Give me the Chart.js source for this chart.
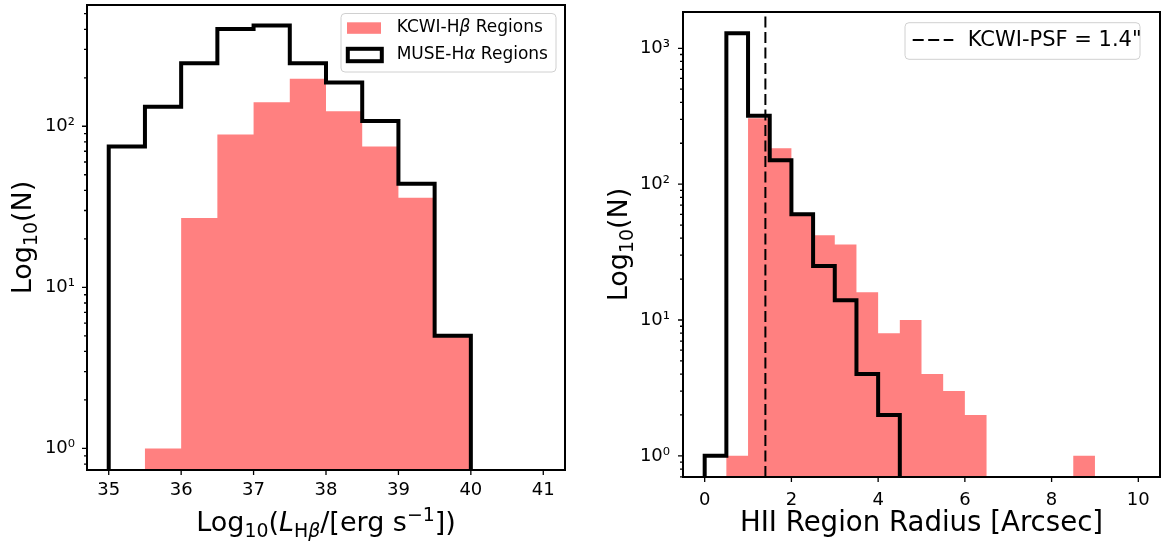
<!DOCTYPE html>
<html>
<head>
<meta charset="utf-8">
<script src="https://cdn.jsdelivr.net/npm/chart.js@4.4.1/dist/chart.umd.min.js"></script>
<style>
  html, body { margin: 0; padding: 0; background: #fff; }
  #wrap { position: relative; width: 1161px; height: 541px; }
  canvas { position: absolute; top: 0; }
  #lumChart { left: 0; }
  #radChart { left: 580px; }
</style>
</head>
<body>
<div id="wrap">
  <canvas id="lumChart" width="580" height="541"></canvas>
  <canvas id="radChart" width="581" height="541"></canvas>
</div>
<script>
const FONT = "'DejaVu Sans', sans-serif";
Chart.defaults.font.family = FONT;
Chart.defaults.color = "#000";

// luminosity histogram (left)
const lumEdges = [35, 35.5, 36, 36.5, 37, 37.5, 38, 38.5, 39, 39.5, 40, 40.5, 41];
const kcwiLumCounts = [0, 1, 27, 89, 141, 197, 124, 75, 36, 5, 0, 0];
const museLumCounts = [75, 132, 246, 402, 422, 246, 187, 108, 44, 5, 0, 0];
const lumTicks = [35, 36, 37, 38, 39, 40, 41];
const lumCountTicks = [1, 10, 100];

// radius histogram (right)
const radEdges = [0, 0.5, 1, 1.5, 2, 2.5, 3, 3.5, 4, 4.5, 5, 5.5, 6, 6.5, 7, 7.5, 8, 8.5, 9, 9.5, 10];
const kcwiRadCounts = [0, 1, 306, 184, 59, 42, 36, 16, 8, 10, 4, 3, 2, 0, 0, 0, 0, 1, 0, 0];
const museRadCounts = [1, 1291, 319, 150, 60, 25, 14, 4, 2, 0, 0, 0, 0, 0, 0, 0, 0, 0, 0, 0];
const radTicks = [0, 2, 4, 6, 8, 10];
const radCountTicks = [1, 10, 100, 1000];
const psfRadius = [1.4];

const PINK = "rgb(255,128,128)";
const SUP = ["\u2070", "\u00b9", "\u00b2", "\u00b3"];
const TICK_SIZE = 18;

// histogram outline as step points; empty bins drop below the axis
function stepPoints(edges, counts, floor) {
  const pts = [{ x: edges[0], y: floor }];
  counts.forEach((c, i) => pts.push({ x: edges[i], y: c > 0 ? c : floor }));
  pts.push({ x: edges[edges.length - 1], y: floor });
  return pts;
}

// text in pieces: "" normal, "i" italic, "sub", "subi", "sup"
function drawRich(ctx, segs, x, y, size, align) {
  const parts = segs.map(([t, st]) => {
    const small = st.startsWith("sub") || st === "sup";
    const fs = small ? size * 0.7 : size;
    const font = `${st.endsWith("i") ? "italic " : ""}${fs}px ${FONT}`;
    ctx.font = font;
    const dy = st.startsWith("sub") ? size * 0.22 : st === "sup" ? -size * 0.37 : 0;
    return { t, font, dy, w: ctx.measureText(t).width };
  });
  const total = parts.reduce((a, p) => a + p.w, 0);
  let cx = align === "center" ? x - total / 2 : x;
  for (const p of parts) {
    ctx.font = p.font;
    ctx.fillText(p.t, cx, y + p.dy);
    cx += p.w;
  }
}

function legendBox(ctx, x, y, w, h) {
  const r = 4;
  ctx.beginPath();
  ctx.moveTo(x + r, y);
  ctx.arcTo(x + w, y, x + w, y + h, r);
  ctx.arcTo(x + w, y + h, x, y + h, r);
  ctx.arcTo(x, y + h, x, y, r);
  ctx.arcTo(x, y, x + w, y, r);
  ctx.closePath();
  ctx.fillStyle = "rgba(255,255,255,0.8)";
  ctx.fill();
  ctx.strokeStyle = "#d0d0d0";
  ctx.lineWidth = 1;
  ctx.stroke();
}

function decor(spec) {
  return {
    id: "decor",
    afterDraw(chart) {
      const { ctx, chartArea: a, scales: { x, y } } = chart;
      ctx.save();
      ctx.strokeStyle = "#000";
      ctx.fillStyle = "#000";
      ctx.lineWidth = 1.3;
      ctx.beginPath();
      for (const v of spec.xTicks) {
        const px = x.getPixelForValue(v);
        ctx.moveTo(px, a.bottom);
        ctx.lineTo(px, a.bottom + 5);
      }
      for (let e = Math.floor(Math.log10(y.min)); e <= Math.ceil(Math.log10(y.max)); e++) {
        for (let m = 1; m < 10; m++) {
          const v = m * Math.pow(10, e);
          if (v < y.min || v > y.max) continue;
          const py = y.getPixelForValue(v);
          ctx.moveTo(a.left, py);
          ctx.lineTo(a.left - (m === 1 ? 5 : 3), py);
        }
      }
      ctx.stroke();
      ctx.lineWidth = 2;
      ctx.strokeRect(a.left, a.top, a.right - a.left, a.bottom - a.top);

      ctx.textBaseline = "alphabetic";
      drawRich(ctx, spec.xTitle, (a.left + a.right) / 2, 531, spec.xTitleSize, "center");
      ctx.save();
      ctx.translate(spec.yTitleX, (a.top + a.bottom) / 2);
      ctx.rotate(-Math.PI / 2);
      drawRich(ctx, [["Log", ""], ["10", "sub"], ["(N)", ""]], 0, 0, 27, "center");
      ctx.restore();

      spec.legend(ctx);
      ctx.restore();
    }
  };
}

function histChart(canvas, spec) {
  return new Chart(canvas, {
    type: "line",
    data: { datasets: spec.datasets },
    options: {
      responsive: false,
      animation: false,
      events: [],
      layout: { padding: spec.padding },
      elements: { point: { radius: 0 }, line: { tension: 0 } },
      plugins: { legend: { display: false }, tooltip: { enabled: false } },
      scales: {
        x: {
          type: "linear", bounds: "data", min: spec.xRange[0], max: spec.xRange[1],
          grid: { display: false, drawTicks: false, tickLength: 0 },
          border: { display: false },
          afterBuildTicks: s => { s.ticks = spec.xTicks.map(v => ({ value: v })); },
          afterFit: s => { s.height = spec.xAxisHeight; s.paddingLeft = 0; s.paddingRight = 0; },
          ticks: { padding: spec.xPad, font: { size: TICK_SIZE }, color: "#000", autoSkip: false, maxRotation: 0, callback: v => String(v) }
        },
        y: {
          type: "logarithmic", bounds: "data", min: spec.yRange[0], max: spec.yRange[1],
          grid: { display: false, drawTicks: false, tickLength: 0 },
          border: { display: false },
          afterBuildTicks: s => { s.ticks = spec.yTicks.map(v => ({ value: v })); },
          afterFit: s => { s.width = spec.yAxisWidth; s.paddingTop = 0; s.paddingBottom = 0; },
          ticks: { padding: spec.yPad, font: { size: TICK_SIZE }, color: "#000", autoSkip: false, callback: v => "10" + SUP[Math.round(Math.log10(v))] }
        }
      }
    },
    plugins: [decor(spec)]
  });
}

const lumY = [0.735, 566];
histChart(document.getElementById("lumChart"), {
  xRange: [34.7, 41.3], yRange: lumY, xTicks: lumTicks, yTicks: lumCountTicks,
  padding: { left: 0, top: 5, right: 15, bottom: 0 },
  yAxisWidth: 87, xAxisHeight: 71, xPad: 10, yPad: 12, yTitleX: 31, xTitleSize: 27,
  xTitle: [["Log", ""], ["10", "sub"], ["(", ""], ["L", "i"], ["H", "sub"], ["\u03b2", "subi"], ["/[erg s", ""], ["\u22121", "sup"], ["])", ""]],
  datasets: [
    { label: "KCWI-H\u03b2 Regions", data: stepPoints(lumEdges, kcwiLumCounts, lumY[0] / 10), stepped: "before",
      borderColor: "rgba(0,0,0,0)", borderWidth: 0, fill: "start", backgroundColor: PINK, order: 3, clip: 0 },
    { label: "MUSE-H\u03b1 Regions", data: stepPoints(lumEdges, museLumCounts, lumY[0] / 10), stepped: "before",
      borderColor: "#000", borderWidth: 4, borderJoinStyle: "miter", fill: false, order: 2, clip: 0 }
  ],
  legend(ctx) {
    legendBox(ctx, 341, 13.5, 215, 58.5);
    ctx.fillStyle = PINK;
    ctx.fillRect(347, 22.3, 34, 11.5);
    ctx.strokeStyle = "#000";
    ctx.lineWidth = 4;
    ctx.strokeRect(347.8, 48.8, 34, 12.4);
    ctx.fillStyle = "#000";
    ctx.textBaseline = "middle";
    drawRich(ctx, [["KCWI-H", ""], ["\u03b2", "i"], [" Regions", ""]], 396.7, 28, 17, "left");
    drawRich(ctx, [["MUSE-H", ""], ["\u03b1", "i"], [" Regions", ""]], 396.7, 55, 17, "left");
  }
});

const radY = [0.699, 1850];
histChart(document.getElementById("radChart"), {
  xRange: [-0.5, 10.5], yRange: radY, xTicks: radTicks, yTicks: radCountTicks,
  padding: { left: 0, top: 12, right: 1, bottom: 0 },
  yAxisWidth: 103, xAxisHeight: 64, xPad: 13, yPad: 13, yTitleX: 47, xTitleSize: 27.6,
  xTitle: [["HII Region Radius [Arcsec]", ""]],
  datasets: [
    { label: "KCWI", data: stepPoints(radEdges, kcwiRadCounts, radY[0] / 10), stepped: "before",
      borderColor: "rgba(0,0,0,0)", borderWidth: 0, fill: "start", backgroundColor: PINK, order: 3, clip: 0 },
    { label: "MUSE", data: stepPoints(radEdges, museRadCounts, radY[0] / 10), stepped: "before",
      borderColor: "#000", borderWidth: 4, borderJoinStyle: "miter", fill: false, order: 2, clip: 0 },
    { label: "KCWI-PSF", data: [{ x: psfRadius[0], y: radY[0] }, { x: psfRadius[0], y: radY[1] }],
      borderColor: "#000", borderWidth: 2, borderDash: [11, 4.5], fill: false, order: 1, clip: 0 }
  ],
  legend(ctx) {
    legendBox(ctx, 325, 22.7, 235, 36.6);
    ctx.strokeStyle = "#000";
    ctx.lineWidth = 2;
    ctx.setLineDash([11, 4.5]);
    ctx.beginPath();
    ctx.moveTo(332.7, 40);
    ctx.lineTo(373.3, 40);
    ctx.stroke();
    ctx.setLineDash([]);
    ctx.fillStyle = "#000";
    ctx.textBaseline = "middle";
    drawRich(ctx, [["KCWI-PSF = 1.4\"", ""]], 387.7, 40.5, 21, "left");
  }
});
</script>
</body>
</html>
